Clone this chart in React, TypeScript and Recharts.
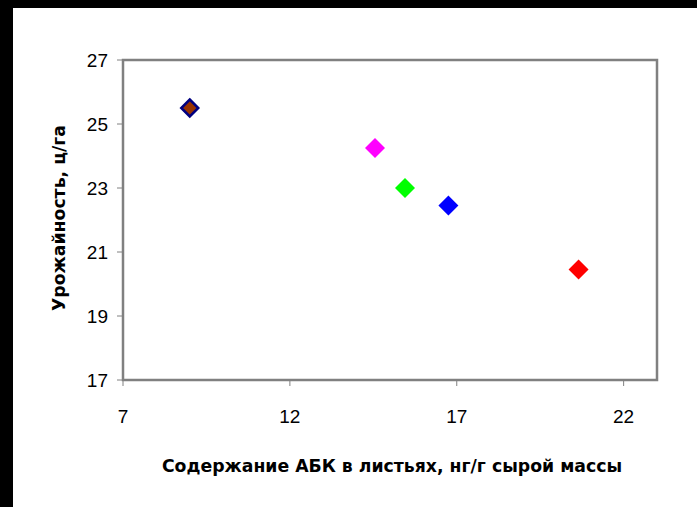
import React from "react";
import {
  ScatterChart,
  Scatter,
  XAxis,
  YAxis,
  ReferenceArea,
  Label,
} from "recharts";

const abkValues = [9.0, 14.55, 15.45, 16.75, 20.65];
const yieldValues = [25.5, 24.25, 23.0, 22.45, 20.45];
const pointFills = ["#993300", "#FF00FF", "#00FF00", "#0000FF", "#FF0000"];
const pointStrokes = ["#000080", "none", "none", "none", "none"];
const xTicks = [7, 12, 17, 22];
const yTicks = [17, 19, 21, 23, 25, 27];
const xAxisTitle = "Содержание АБК в листьях, нг/г сырой массы";
const yAxisTitle = "Урожайность, ц/га";

const points = abkValues.map((x, i) => ({
  x,
  y: yieldValues[i],
  fill: pointFills[i],
  stroke: pointStrokes[i],
}));

const Diamond = (props: any) => {
  const { cx, cy, payload } = props;
  const hasStroke = payload.stroke !== "none";
  const r = hasStroke ? 8.5 : 10;
  const d = `M${cx},${cy - r}L${cx + r},${cy}L${cx},${cy + r}L${cx - r},${cy}Z`;
  return (
    <path
      d={d}
      fill={payload.fill}
      stroke={hasStroke ? payload.stroke : "none"}
      strokeWidth={hasStroke ? 2.5 : 0}
    />
  );
};

const tickStyle = {
  fontFamily: "Liberation Sans",
  fontSize: 19,
  fill: "#000",
};

const titleStyle = {
  fontFamily: "DejaVu Sans",
  fontWeight: "bold" as const,
  fontSize: 17.3,
  fill: "#000",
};

export default function App() {
  return (
    <div
      style={{
        position: "fixed",
        left: 0,
        top: 0,
        width: 697,
        height: 507,
        background: "#000",
      }}
    >
      <div
        style={{
          position: "absolute",
          left: 13,
          top: 8,
          width: 684,
          height: 499,
          background: "#fff",
        }}
      >
        <ScatterChart
          width={684}
          height={499}
          margin={{ top: 52, right: 40, bottom: 0, left: 0 }}
        >
          <XAxis
            type="number"
            dataKey="x"
            domain={[7, 23]}
            ticks={xTicks}
            height={127}
            stroke="#808080"
            strokeWidth={2}
            tickSize={6}
            tickMargin={24}
            tick={tickStyle}
            tickLine={{ stroke: "#808080", strokeWidth: 1 }}
            allowDataOverflow
          >
            <Label
              content={(p: any) => {
                const vb = p.viewBox;
                return (
                  <text
                    x={379}
                    y={vb.y + 92}
                    textAnchor="middle"
                    style={titleStyle}
                  >
                    {xAxisTitle}
                  </text>
                );
              }}
            />
          </XAxis>
          <YAxis
            type="number"
            dataKey="y"
            domain={[17, 27]}
            ticks={yTicks}
            width={110}
            stroke="#808080"
            strokeWidth={2}
            tickSize={6}
            tickMargin={9}
            tick={tickStyle}
            tickLine={{ stroke: "#808080", strokeWidth: 1 }}
            allowDataOverflow
          >
            <Label
              content={() => {
                const cx = 52;
                const cy = 210;
                return (
                  <text
                    x={cx}
                    y={cy}
                    textAnchor="middle"
                    transform={`rotate(-90, ${cx}, ${cy})`}
                    style={titleStyle}
                  >
                    {yAxisTitle}
                  </text>
                );
              }}
            />
          </YAxis>
          <ReferenceArea
            x1={7}
            x2={23}
            y1={17}
            y2={27}
            fill="none"
            stroke="#808080"
            strokeWidth={2.5}
            ifOverflow="visible"
          />
          <Scatter
            data={points}
            shape={<Diamond />}
            isAnimationActive={false}
          />
        </ScatterChart>
      </div>
    </div>
  );
}
